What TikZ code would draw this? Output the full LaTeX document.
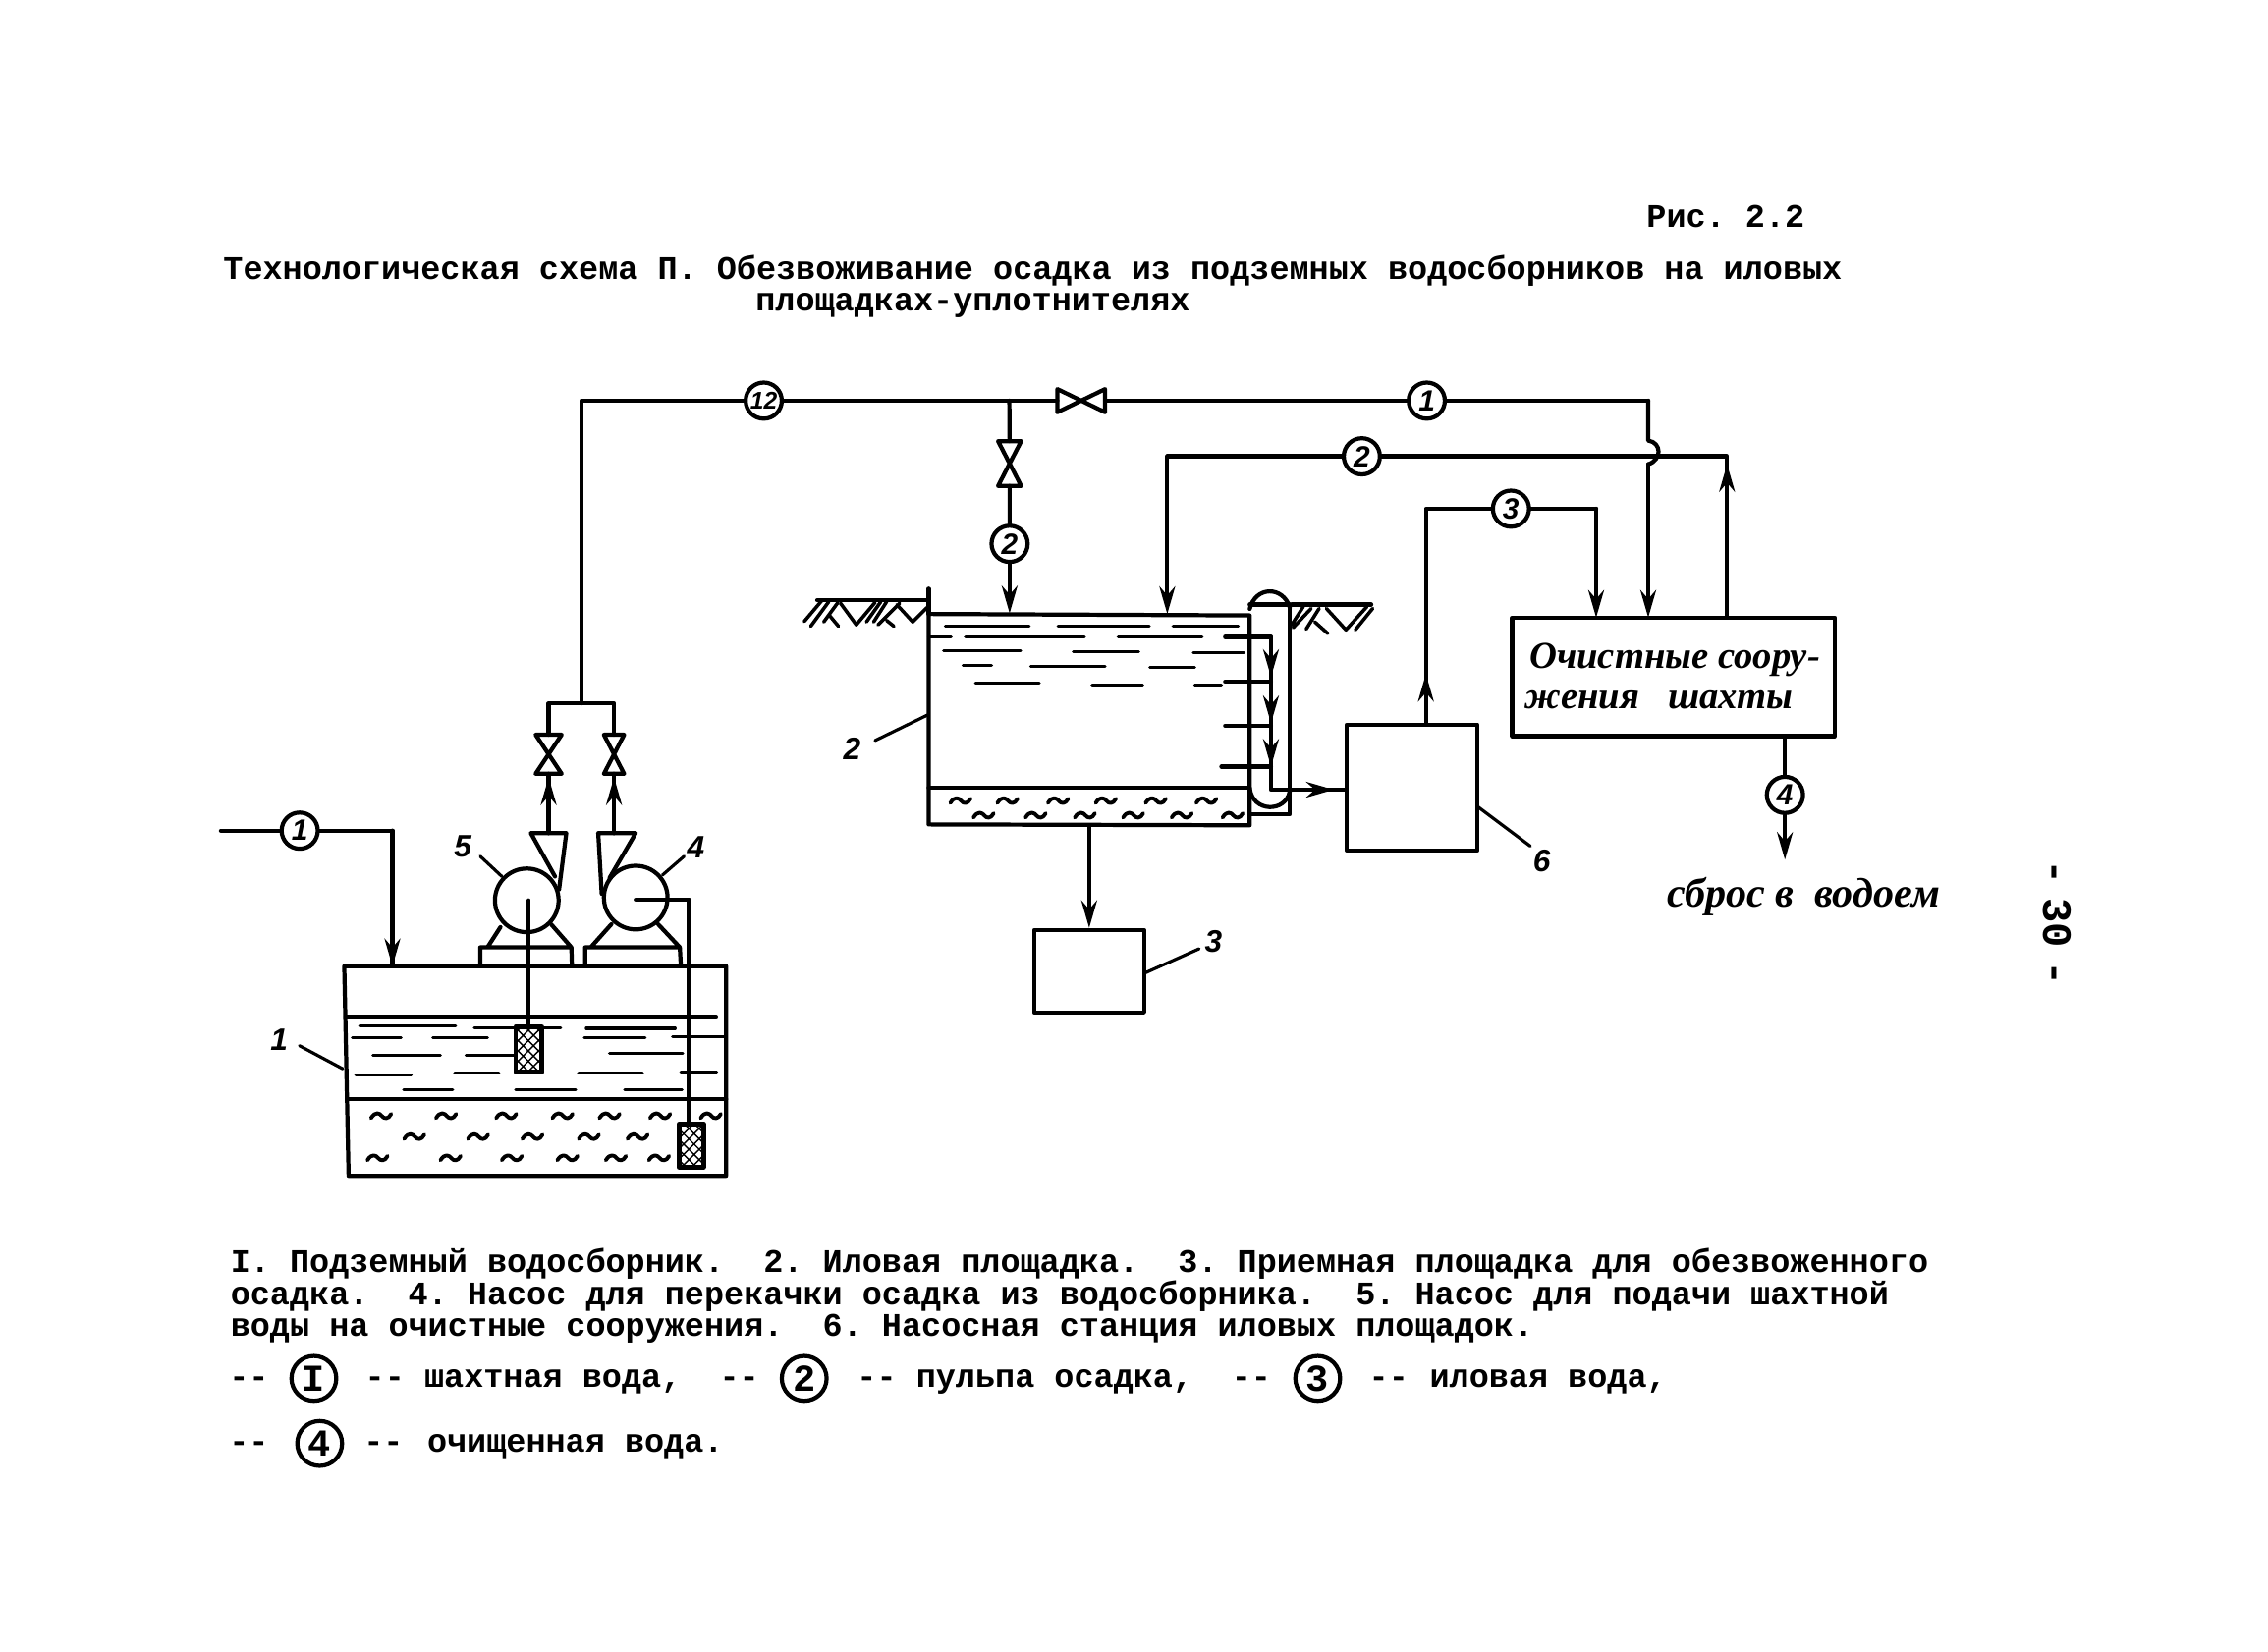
\documentclass[tikz,border=0pt]{standalone}
\usepackage{fontspec}
\usetikzlibrary{calc,patterns,arrows.meta}
\newfontfamily\typer{Liberation Mono}
\newfontfamily\drawn{Liberation Serif}
\newfontfamily\digits{Liberation Sans}
\def\un{0.14726mm}
\tikzset{
	wave/.pic={\draw[line width=1.1pt] (-7,1.5) .. controls (-4,-3.5) and (-1,-2) .. (0.5,0) .. controls (2,2) and (5,2.5) .. (7,-1.5);},
	num/.style={draw,circle,fill=white,inner sep=0pt,minimum size=25*\un,font=\digits\bfseries\itshape\fontsize{8.5}{9}\selectfont},
	legendnum/.style={draw,circle,inner sep=0pt,minimum size=31*\un,font=\typer\bfseries\fontsize{11}{11}\selectfont},
	lab/.style={font=\digits\bfseries\itshape\fontsize{9}{9}\selectfont,inner sep=0pt},
	typed/.style={font=\typer\bfseries\fontsize{9.53}{9.2}\selectfont,inner sep=0pt,anchor=base west},
	script/.style={font=\drawn\bfseries\itshape\fontsize{11}{12}\selectfont,inner sep=0pt,anchor=base west},
	box/.style={draw,inner sep=0pt},
	pump/.style={draw,circle,inner sep=0pt,minimum size=44*\un},
	filter/.style={draw,line width=1.4pt,fill=white,postaction={pattern=crosshatch}},
	thinl/.style={line width=0.9pt}
}
\begin{document}
\begin{tikzpicture}[line join=round,line cap=round,>={Stealth[length=2.8mm,width=1.6mm]},line width=1.2pt,x=\un,y=-\un]
	\useasboundingbox (0,0) rectangle (1568,1142);
	\frenchspacing
	% Titles
	\node[typed] (tit0) at (1137,157) {Рис. 2.2};
	\node[typed] (tit1) at (153,193) {Технологическая схема П. Обезвоживание осадка из подземных водосборников на иловых};
	\node[typed] (tit2) at (521,215) {площадках-уплотнителях};
	% Tank 1
	\coordinate (Ta) at (238,668);
	\coordinate (Tb) at (502,668);
	\coordinate (Tc) at (502,813);
	\coordinate (Td) at (241,813);
	\coordinate (Ti) at (271.3,668);
	\draw (Ta)--(Tb)--(Tc)--(Td)--cycle;
	\draw (239,703)--(495,703) (240,760)--(502,760);
	\foreach \xa/\xb/\y in {248.7/315/709.4,328/387.6/710.5,405.3/466.8/711,243.5/277.3/717.5,299.3/337/717.5,404/446/717.5,465/502/717,257.8/304.5/729.6,322.2/356.5/729.6,421.4/472/728.5,246/284.3/743,314.4/344.8/742,400/444.2/741.8,470.7/495.4/741,279/313/753.6,356.5/398/753.6,431.8/471.5/753.6}
		\draw[thinl] (\xa,\y)--(\xb,\y);
	\foreach \x/\y in {263.5/771.6,308.4/771.6,350/771.6,388.9/771.6,421.4/771.6,456.4/771.6,491.4/771.6,286.4/786,330.5/786,368.1/786,407.1/786,440.8/786,261/800.7,311.5/800.7,353.9/800.7,392.3/800.7,425.8/800.7,455.6/800.7}
		\pic at (\x,\y) {wave};
	\node[lab] (n1) at (193,719) {1};
	\coordinate (n1e) at (237,739);
	\draw[thinl] (207,723)--(n1e);
	% Inlet of tank 1
	\coordinate (W0) at (152.7,574.3);
	\coordinate (W1) at (271.3,574.3);
	\node[num] (cA) at (207.2,574.3) {1};
	\draw (W0)--(cA) (cA)--(W1)--(Ti);
	\draw[->] (W1)--(Ti);
	% Pumps
	\node[pump] (p5) at (364.2,622.5) {};
	\node[pump] (p4) at (439.5,620.6) {};
	\draw (346,641)--(337,655) (381,639)--(395,655) (332,668)--(332,655)--(395,655)--(395.4,668);
	\draw (422.7,639)--(408.4,655) (455,639)--(470,655) (404.5,668)--(404.5,655)--(470,655)--(470.7,668);
	\draw (383.7,606)--(367,576)--(391.5,576)--(386.5,615);
	\draw (421.4,607)--(439.5,576)--(413.6,576)--(416,618);
	\node[lab] (n5) at (320,585) {5};
	\coordinate (n5e) at (347,606);
	\draw[thinl] (332,592)--(n5e);
	\node[lab] (n4) at (481,586) {4};
	\coordinate (n4e) at (458,605);
	\draw[thinl] (473,592)--(n4e);
	% Suction lines
	\coordinate (S5) at (365.6,622.5);
	\coordinate (S4) at (439.5,622);
	\coordinate (S4a) at (476.4,622);
	\draw (S5)--(365.6,710);
	\draw (S4)--(S4a)--(476.4,777);
	\draw[filter] (356.5,710) rectangle (374.6,741.3);
	\draw[filter] (469.4,777) rectangle (486.3,807);
	% Discharge and valves
	\coordinate (Ma) at (379.3,576);
	\coordinate (Mb) at (424.5,576);
	\coordinate (Mc) at (379.3,486.3);
	\coordinate (Md) at (424.5,486.3);
	\coordinate (Me) at (401.9,486.3);
	\draw (Ma)--(379.3,535) (Mb)--(424.5,535);
	\draw[->] (Ma)--(379.3,537.5);
	\draw[->] (Mb)--(424.5,537.5);
	\draw (379.3,508)--(Mc)--(Md)--(424.5,508);
	\draw (370.3,508)--(388.3,508)--(370.3,535)--(388.3,535)--cycle;
	\draw (417.5,508)--(431.5,508)--(417.5,535)--(431.5,535)--cycle;
	% Upper main
	\coordinate (Ua) at (401.9,277);
	\coordinate (Ub) at (697.8,277);
	\coordinate (Uc) at (1139.5,277);
	\node[num,font=\digits\bfseries\itshape\fontsize{7}{7}\selectfont] (cB) at (528,277) {12};
	\node[num] (cC) at (986.4,277) {1};
	\draw (Me)--(Ua)--(cB) (cB)--(Ub)--(731,277);
	\draw (764,277)--(cC) (cC)--(Uc);
	\draw (731,269)--(731,285)--(764,269)--(764,285)--cycle;
	% Branch to tank 2
	\node[num] (cD) at (698,376) {2};
	\coordinate (Tt) at (698,424);
	\draw (Ub)--(698,305) (698,336)--(cD);
	\draw (690,305)--(706,305)--(690,336)--(706,336)--cycle;
	\draw[->] (cD)--(Tt);
	% Tank 2
	\coordinate (Ka) at (642,424.5);
	\coordinate (Kb) at (864,425.5);
	\coordinate (Kc) at (864,570.6);
	\coordinate (Kd) at (642,570);
	\draw (Ka)--(Kb)--(Kc)--(Kd)--cycle;
	\draw (642,407)--(Ka);
	\draw (642,544.7)--(864,544.7);
	\foreach \xa/\xb/\y in {653.6/711.5/433,731.5/794.6/433,811/856/433,642/657.5/440.4,667.4/749.7/440.4,773/831/440.4,652.3/705.6/449.6,742/787.3/450.3,825/860/451,665.8/685.5/460,712.6/764/461,795/826/461.6,674.4/718.5/472.4,755/790/473.5,826/844.4/473.5}
		\draw[thinl] (\xa,\y)--(\xb,\y);
	\foreach \x/\y in {664/553.7,696.5/553.7,731.5/553.7,764.5/553.7,799/553.7,834/553.7,680/563.8,716/563.8,750/563.8,783.4/563.8,817/563.8,852.2/563.8}
		\pic at (\x,\y) {wave};
	\node[lab] (n2) at (589,518) {2};
	\coordinate (n2e) at (642,494);
	\draw[thinl] (605,512)--(n2e);
	% Ground
	\coordinate (Ga) at (565,415);
	\coordinate (Gb) at (893,418);
	\draw (Ga)--(642,415);
	\begin{scope}[shift={(Ga)},line width=1pt]
		\draw (3.4,0)--(-9,14.7) (8,1)--(-4.5,18) (14,2)--(4.5,15) (8,10)--(14.7,18);
		\draw (16,2)--(27,17)--(40,1.5) (44,1)--(34,15) (48,1)--(39,15);
		\draw (57,2)--(42,17) (48,14)--(53,18) (55,3)--(66,15)--(76,5);
	\end{scope}
	\draw (Gb)--(948,418);
	\begin{scope}[shift={(Gb)},line width=1pt]
		\draw (8,1.5)--(0,14) (13.5,2.7)--(1,16) (19,2.7)--(10,17) (16,12)--(25,20);
		\draw (24,2.7)--(37.5,17.5)--(52,1.5) (56,2.7)--(44,17.5);
	\end{scope}
	% Side chamber
	\coordinate (Ha) at (891.7,418);
	\coordinate (Hb) at (891.7,563);
	\draw (864,418)--(Ha)--(Hb)--(864,563);
	\draw (864,421) .. controls (868,405) and (887,405) .. (891.7,420);
	\draw (864,545) .. controls (866,562) and (889,562) .. (891.7,547);
	\coordinate (Pa) at (847,440.4);
	\coordinate (Pb) at (878.7,440.4);
	\coordinate (Pc) at (878.7,545);
	\draw (Pa)--(Pb)--(Pc);
	\draw (847,471.3)--(878.7,471.3) (847,501.8)--(878.7,501.8) (844.4,530)--(878.7,530);
	\draw[->] (Pb)--(878.7,468);
	\draw[->] (878.7,471.3)--(878.7,500);
	\draw[->] (878.7,501.8)--(878.7,530);
	% Outlet to box 3
	\node[box,minimum width=76*\un,minimum height=57*\un] (B3) at (753,671.5) {};
	\coordinate (Oa) at (753,570.6);
	\draw[->] (Oa)--(B3.north);
	\node[lab] (n3) at (839,651) {3};
	\coordinate (n3e) at (791,673);
	\draw[thinl] (n3e)--(829,656);
	% Box 6
	\node[box,minimum width=90.3*\un,minimum height=87*\un] (B6) at (976.2,544.5) {};
	\coordinate (Q6) at (930,546);
	\draw (Pc)--(878.7,546)--(Q6);
	\draw[->] (880,546)--(922,546);
	\node[lab] (n6) at (1066,595) {6};
	\coordinate (n6e) at (1022,558);
	\draw[thinl] (n6e)--(1058,585);
	% Treatment plant
	\node[box,minimum width=223*\un,minimum height=82*\un] (BO) at (1157,468) {};
	\node[script] (to1) at (1056,462) {Очистные соору-};
	\node[script] (to2) at (1053,490) {жения~~~шахты};
	\coordinate (Bu) at (1139.5,427);
	\coordinate (Bv) at (1103.5,427);
	\coordinate (Bw) at (1194,427);
	\draw (Uc)--(1139.5,304.6) .. controls (1149,306) and (1149,318) .. (1139.5,321);
	\draw[->] (1139.5,321)--(Bu);
	% Line 2 back
	\coordinate (La) at (1194,315.5);
	\coordinate (Lb) at (807,315.5);
	\coordinate (Lc) at (807,424.5);
	\node[num] (cE) at (941.5,315.5) {2};
	\draw (Bw)--(La)--(cE) (cE)--(Lb);
	\draw[->] (Bw)--(1194,321);
	\draw[->] (Lb)--(Lc);
	% Line 3
	\coordinate (Ra) at (985.8,501);
	\coordinate (Rb) at (985.8,351.7);
	\coordinate (Rc) at (1103.5,351.7);
	\node[num] (cF) at (1044.6,351.7) {3};
	\draw (Ra)--(Rb)--(cF) (cF)--(Rc);
	\draw[->] (Ra)--(985.8,466);
	\draw[->] (Rc)--(Bv);
	% Line 4
	\coordinate (Va) at (1234,509);
	\coordinate (Vb) at (1234,594.4);
	\node[num] (cG) at (1234,549.6) {4};
	\draw (Va)--(cG);
	\draw[->] (cG)--(Vb);
	\node[script,font=\drawn\bfseries\itshape\fontsize{12}{12}\selectfont] (out) at (1151,627) {сброс~в~~водоем};
	% Page number
	\node[font=\typer\bfseries\fontsize{12}{12}\selectfont,rotate=-90,inner sep=0pt] (page) at (1422,638) {-\kern-3.3pt~30~\kern-3.3pt-};
	% Key
	\node[typed] (key1) at (158,880) {I. Подземный водосборник.~~2. Иловая площадка.~~3. Приемная площадка для обезвоженного};
	\node[typed] (key2) at (158,902) {осадка.~~4. Насос для перекачки осадка из водосборника.~~5. Насос для подачи шахтной};
	\node[typed] (key3) at (158,924) {воды на очистные сооружения.~~6. Насосная станция иловых площадок.};
	% Legend
	\node[legendnum] (kA) at (217,953) {I};
	\node[legendnum] (kB) at (556,953) {2};
	\node[legendnum] (kC) at (911,953) {3};
	\node[legendnum] (kD) at (221,998) {4};
	\foreach \x/\y in {157/959,251/959,496/959,591/959,850/959,945/959,157/1004,250/1004}
		\node[typed] at (\x,\y) {{-}{-}};
	\node[typed] (ka) at (292,959) {шахтная вода,};
	\node[typed] (kb) at (632,959) {пульпа осадка,};
	\node[typed] (kc) at (987,959) {иловая вода,};
	\node[typed] (kd) at (294,1004) {очищенная вода.};
\end{tikzpicture}
\end{document}
